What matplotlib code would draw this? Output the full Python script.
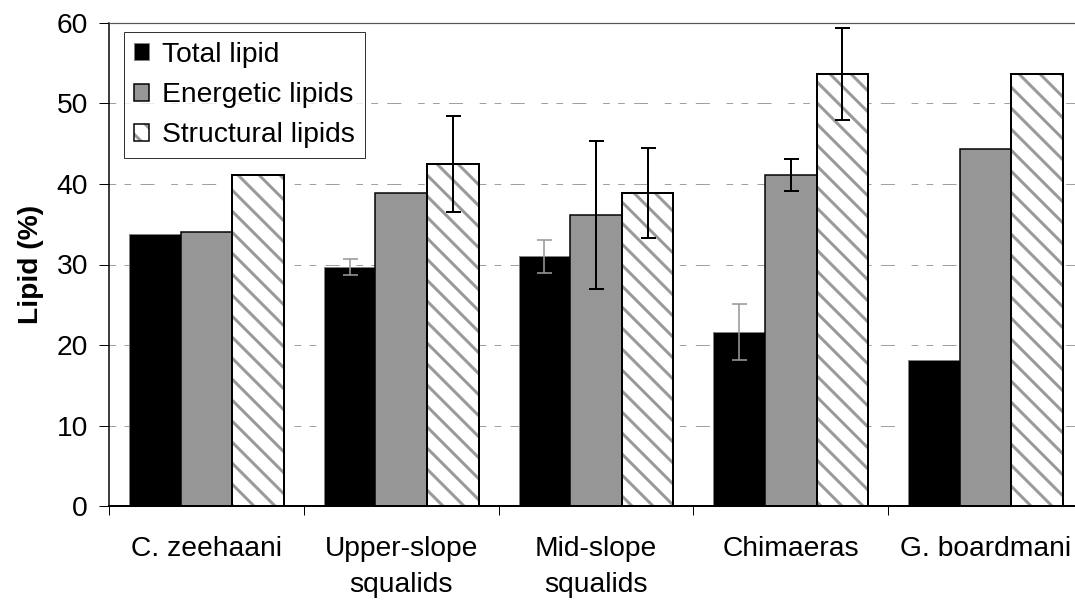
import numpy as np
import matplotlib
matplotlib.use("Agg")
import matplotlib.pyplot as plt
from matplotlib.patches import Patch
from matplotlib.legend_handler import HandlerTuple
from matplotlib import backend_bases, hatch as mhatch

# ---------------- data ----------------
categories = ["C. zeehaani", "Upper-slope\nsqualids", "Mid-slope\nsqualids", "Chimaeras", "G. boardmani"]
series_names = ["Total lipid", "Energetic lipids", "Structural lipids"]
total_lipid = [33.8, 29.7, 31.0, 21.6, 18.1]
total_err = [np.nan, 1.0, 2.05, 3.5, np.nan]
energetic_lipids = [34.0, 38.9, 36.2, 41.1, 44.4]
energetic_err = [np.nan, np.nan, 9.2, 2.0, np.nan]
structural_lipids = [41.1, 42.5, 38.9, 53.7, 53.7]
structural_err = [np.nan, 6.0, 5.6, 5.7, np.nan]
y_ticks = [0, 10, 20, 30, 40, 50, 60]

# ---------------- style ----------------
DPI = 126
PT = 72.0 / DPI  # points per pixel
plt.rcParams['font.family'] = ['Liberation Sans', 'DejaVu Sans']
plt.rcParams['lines.scale_dashes'] = False
plt.rcParams['hatch.linewidth'] = 3 * PT
plt.rcParams['hatch.color'] = '#999999'
FS = 28.3 * PT

# slightly denser hatch than matplotlib's default density
def _hatch_path(self, density=6.5):
    h = self.get_hatch()
    if h is None:
        return None
    return mhatch.get_path(h, density)
backend_bases.GraphicsContextBase.get_hatch_path = _hatch_path

fig = plt.figure(figsize=(1075 / DPI, 603 / DPI), dpi=DPI)
ax = fig.add_axes([109 / 1075, 1 - 506 / 603, (1083 - 109) / 1075, (506 - 23) / 603])

x = np.arange(len(categories))
w = 0.265

# gridlines
grid_dash = (0, (6.7 * PT, 8.3 * PT, 6.7 * PT, 9.3 * PT, 14 * PT, 16.7 * PT))
for yv in y_ticks[1:-1]:
    ax.axhline(yv, color='#a0a0a0', lw=1 * PT, linestyle=grid_dash, zorder=0)

# bars
ax.bar(x - w, total_lipid, w, color='black', edgecolor='#808080', lw=1 * PT, zorder=2)
ax.bar(x, energetic_lipids, w, color='#969696', edgecolor='black', lw=1.5 * PT, zorder=2)
ax.bar(x + w, structural_lipids, w, color='white', edgecolor='#999999', hatch='\\\\', lw=0, zorder=2)
ax.bar(x + w, structural_lipids, w, fill=False, edgecolor='black', lw=2 * PT, zorder=3)

# error bars
def eb(xpos, vals, errs, color, lw):
    vals = np.asarray(vals, float)
    errs = np.asarray(errs, float)
    m = np.isfinite(errs)
    ax.errorbar(xpos[m], vals[m], yerr=errs[m], fmt='none', ecolor=color,
                elinewidth=lw, capsize=7.5 * PT, capthick=lw, zorder=5)

eb(x - w, total_lipid, total_err, '#999999', 1.6 * PT)
eb(x, energetic_lipids, energetic_err, 'black', 2 * PT)
eb(x + w, structural_lipids, structural_err, 'black', 2 * PT)

# axes
ax.set_xlim(-0.5, len(categories) - 0.5)
ax.set_ylim(0, 60)
ax.set_yticks(y_ticks)
ax.set_yticklabels([str(v) for v in y_ticks], fontsize=FS)
ax.tick_params(axis='y', direction='out', length=10 * PT, width=1 * PT, pad=11 * PT)

ax.set_xticks(np.arange(len(categories) + 1) - 0.5)
ax.set_xticklabels([])
ax.tick_params(axis='x', which='major', direction='out', length=9 * PT, width=1 * PT)
ax.set_xticks(x, minor=True)
ax.set_xticklabels(categories, minor=True, fontsize=FS, linespacing=1.5)
ax.tick_params(axis='x', which='minor', length=0, pad=30 * PT)

ax.spines['right'].set_visible(False)
ax.spines['top'].set_color('#555555')
ax.spines['top'].set_linewidth(1.2 * PT)
ax.spines['left'].set_linewidth(1.5 * PT)
ax.spines['bottom'].set_linewidth(2 * PT)

ax.set_ylabel('Lipid (%)', fontsize=FS, fontweight='bold', labelpad=13 * PT)

# legend
h1 = Patch(facecolor='black', edgecolor='#808080', lw=1 * PT)
h2 = Patch(facecolor='#969696', edgecolor='black', lw=1.5 * PT)
h3a = Patch(facecolor='white', edgecolor='#999999', hatch='\\\\', lw=0)
h3b = Patch(fill=False, edgecolor='black', lw=1.5 * PT)
leg = ax.legend([h1, h2, (h3a, h3b)], series_names,
                handler_map={tuple: HandlerTuple(ndivide=1, pad=0)},
                loc='upper left', bbox_to_anchor=((124 - 109) / 974, (506 - 32) / 483),
                borderaxespad=0, fontsize=FS, frameon=True, fancybox=False,
                handlelength=0.55, handleheight=0.55, handletextpad=0.45,
                labelspacing=0.5, borderpad=0.35)
leg.get_frame().set_edgecolor('black')
leg.get_frame().set_linewidth(1 * PT)

fig.savefig('out.png', dpi=DPI)
